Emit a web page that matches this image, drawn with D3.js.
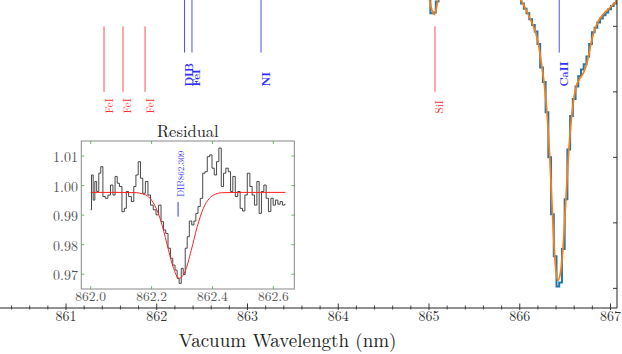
<!DOCTYPE html>
<html>
<head>
<meta charset="utf-8">
<script src="https://cdn.jsdelivr.net/npm/d3@7"></script>
<style>
  body { margin: 0; background: #fff; }
</style>
</head>
<body>
<div id="chart"></div>
<script>
// observed spectrum (steps) and model, around Si I and Ca II
var specWave = [864.70, 864.85, 864.94, 864.97, 865.00, 865.03, 865.06, 865.09, 865.12, 865.15, 865.18, 865.30, 865.50, 865.65,
  865.79, 865.82, 865.85, 865.88, 865.91, 865.94, 865.97, 866.00, 866.03, 866.06, 866.09, 866.12, 866.15, 866.18,
  866.21, 866.24, 866.27, 866.30, 866.33, 866.36, 866.39, 866.42, 866.45, 866.48, 866.51, 866.54, 866.57, 866.60,
  866.63, 866.66, 866.69, 866.72, 866.75, 866.78, 866.81, 866.84, 866.87, 866.90, 866.93, 866.96, 866.99, 867.02,
  867.05, 867.08, 867.11];
var specFlux = [0.970, 0.950, 0.910, 0.880, 0.850, 0.820, 0.821, 0.838, 0.862, 0.890, 0.920, 0.950, 0.950, 0.930,
  0.910, 0.899, 0.890, 0.879, 0.869, 0.856, 0.849, 0.843, 0.835, 0.827, 0.820, 0.811, 0.802, 0.792,
  0.773, 0.737, 0.715, 0.669, 0.600, 0.513, 0.449, 0.403, 0.409, 0.460, 0.536, 0.612, 0.663, 0.689,
  0.708, 0.724, 0.734, 0.742, 0.754, 0.773, 0.791, 0.798, 0.806, 0.812, 0.817, 0.821, 0.826, 0.831,
  0.835, 0.840, 0.845];
var modelFlux = [0.970, 0.945, 0.905, 0.875, 0.845, 0.826, 0.818, 0.834, 0.858, 0.885, 0.915, 0.950, 0.950, 0.930,
  0.905, 0.897, 0.888, 0.878, 0.867, 0.857, 0.850, 0.844, 0.836, 0.828, 0.819, 0.810, 0.800, 0.788,
  0.770, 0.742, 0.712, 0.668, 0.602, 0.515, 0.440, 0.412, 0.425, 0.468, 0.540, 0.610, 0.660, 0.693,
  0.712, 0.720, 0.726, 0.735, 0.750, 0.770, 0.788, 0.800, 0.809, 0.815, 0.820, 0.824, 0.828, 0.832,
  0.836, 0.840, 0.845];

// line identifications
var lineNames = ["FeI", "FeI", "FeI", "DIB", "FeI", "NI", "SiI", "CaII"];
var lineWaves = [861.419, 861.628, 861.871, 862.306, 862.388, 863.149, 865.066, 866.435];
var lineKind  = ["atm", "atm", "atm", "ism", "ism", "ism", "atm", "ism"];

var mainTicks = [861, 862, 863, 864, 865, 866, 867];
var fluxTicks = [0.4, 0.5, 0.6, 0.7, 0.8];

// residual inset
var resWave = [862.000, 862.005, 862.011, 862.016, 862.023, 862.030, 862.036, 862.044, 862.052, 862.061,
  862.069, 862.077, 862.083, 862.091, 862.098, 862.107, 862.114, 862.120, 862.129, 862.138,
  862.145, 862.152, 862.160, 862.167, 862.175, 862.184, 862.192, 862.201, 862.210, 862.219,
  862.227, 862.235, 862.243, 862.250, 862.258, 862.266, 862.273, 862.281, 862.287, 862.294,
  862.301, 862.307, 862.314, 862.320, 862.328, 862.336, 862.342, 862.349, 862.356, 862.364,
  862.372, 862.379, 862.387, 862.395, 862.402, 862.410, 862.417, 862.425, 862.433, 862.440,
  862.448, 862.456, 862.463, 862.471, 862.479, 862.487, 862.495, 862.503, 862.510, 862.519,
  862.527, 862.534, 862.542, 862.550, 862.557, 862.565, 862.573, 862.580, 862.588, 862.596,
  862.603, 862.611, 862.619, 862.626, 862.634, 862.640];
var resFlux = [0.9918, 1.0036, 0.9951, 1.0014, 0.9980, 1.0042, 1.0064, 0.9963, 0.9957, 0.9968,
  1.0002, 0.9968, 1.0031, 1.0008, 0.9997, 0.9912, 0.9923, 0.9980, 0.9963, 0.9946,
  0.9997, 1.0036, 1.0081, 1.0025, 0.9974, 1.0014, 0.9968, 0.9934, 0.9918, 0.9901,
  0.9934, 0.9878, 0.9850, 0.9838, 0.9788, 0.9754, 0.9731, 0.9714, 0.9686, 0.9669,
  0.9720, 0.9699, 0.9788, 0.9827, 0.9880, 0.9867, 0.9880, 0.9906, 0.9929, 0.9957,
  1.0042, 1.0047, 1.0098, 1.0104, 1.0059, 1.0036, 1.0081, 1.0127, 0.9997, 1.0042,
  1.0059, 1.0047, 0.9980, 1.0031, 0.9963, 0.9980, 0.9923, 0.9914, 0.9968, 1.0042,
  0.9997, 0.9968, 0.9934, 1.0014, 0.9906, 0.9980, 1.0002, 0.9957, 0.9912, 0.9957,
  0.9934, 0.9951, 0.9937, 0.9946, 0.9934, 0.9937];
var fitWave = [862.00, 862.10, 862.15, 862.17, 862.19, 862.21, 862.23, 862.25, 862.27, 862.29,
  862.31, 862.33, 862.35, 862.37, 862.39, 862.41, 862.43, 862.50, 862.64];
var fitFlux = [0.9977, 0.9977, 0.9976, 0.9972, 0.9962, 0.9934, 0.9882, 0.9805, 0.9727, 0.9686,
  0.9709, 0.9780, 0.9861, 0.9923, 0.9957, 0.9971, 0.9976, 0.9977, 0.9977];
var resXTicks = [862.0, 862.2, 862.4, 862.6];
var resYTicks = [0.97, 0.98, 0.99, 1.00, 1.01];
var dibWave = 862.287;

var serif = "'Latin Modern Roman', 'Liberation Serif', monospace";
var width = 622, height = 354;
var svg = d3.select("#chart").append("svg")
  .attr("width", width)
  .attr("height", height);

function label(parent) {
  return parent.append("text").style("font-family", serif);
}

// main axes: plot box runs off the top and left of the picture
var x = d3.scaleLinear().domain([861, 867]).range([66, 610.5]);
var y = d3.scaleLinear().domain([0.37, 1.05]).range([308, -137.4]);
var plotLeft = -42, plotRight = 617, plotBottom = 308;

svg.append("defs").append("clipPath")
  .attr("id", "clip")
  .append("rect")
  .attr("x", plotLeft).attr("y", -200)
  .attr("width", plotRight - plotLeft).attr("height", plotBottom + 200);

var g = svg.append("g").attr("clip-path", "url(#clip)");

var spec = specWave.map(function(w, i) { return { w: w, f: specFlux[i], m: modelFlux[i] }; });

g.append("path")
  .datum(spec)
  .attr("fill", "none")
  .attr("stroke", "#1f77b4")
  .attr("stroke-width", 2)
  .attr("d", d3.line()
    .x(function(d) { return x(d.w); })
    .y(function(d) { return y(d.f); })
    .curve(d3.curveStep));

g.append("path")
  .datum(spec)
  .attr("fill", "none")
  .attr("stroke", "#ff7f0e")
  .attr("stroke-width", 1.7)
  .attr("d", d3.line()
    .x(function(d) { return x(d.w); })
    .y(function(d) { return y(d.m); })
    .curve(d3.curveMonotoneX));

// line markers
lineNames.forEach(function(name, i) {
  var xx = x(lineWaves[i]);
  var atm = lineKind[i] === "atm";
  var col = atm ? "#ff3030" : "#3030ff";
  g.append("line")
    .attr("x1", xx).attr("x2", xx)
    .attr("y1", atm ? y(0.8) : y(0.9))
    .attr("y2", atm ? y(0.7) : y(0.76))
    .attr("stroke", col)
    .attr("stroke-opacity", 0.85)
    .attr("stroke-width", 1);
  var ty = atm ? y(0.667) : y(0.708);
  label(svg)
    .attr("transform", "translate(" + (xx + 4) + "," + ty + ") rotate(-90)")
    .attr("dominant-baseline", "central")
    .attr("font-size", 11)
    .attr("font-weight", atm ? "normal" : "bold")
    .attr("fill", col)
    .text(name);
});

// bottom axis
svg.append("line")
  .attr("x1", plotLeft).attr("x2", plotRight)
  .attr("y1", plotBottom).attr("y2", plotBottom)
  .attr("stroke", "#222").attr("stroke-width", 1);

var minor = d3.range(859.0, 867.1, 0.2).filter(function(v) { return Math.abs(v - Math.round(v)) > 0.01; });
svg.selectAll(".minor").data(minor).enter().append("line")
  .attr("x1", function(d) { return x(d); })
  .attr("x2", function(d) { return x(d); })
  .attr("y1", plotBottom - 2.5).attr("y2", plotBottom + 1.5)
  .attr("stroke", "#222").attr("stroke-width", 0.8);

svg.selectAll(".major").data(mainTicks).enter().append("line")
  .attr("x1", function(d) { return x(d); })
  .attr("x2", function(d) { return x(d); })
  .attr("y1", plotBottom - 4.5).attr("y2", plotBottom + 2)
  .attr("stroke", "#222").attr("stroke-width", 0.9);

mainTicks.forEach(function(t) {
  label(svg)
    .attr("x", x(t))
    .attr("y", 320.5)
    .attr("text-anchor", "middle")
    .attr("font-size", 14)
    .attr("fill", "#333")
    .text(t);
});

label(svg)
  .attr("x", (plotLeft + plotRight) / 2)
  .attr("y", 347)
  .attr("text-anchor", "middle")
  .attr("font-size", 19)
  .attr("fill", "#222")
  .text("Vacuum Wavelength (nm)");

// right spine
svg.append("line")
  .attr("x1", plotRight).attr("x2", plotRight)
  .attr("y1", 0).attr("y2", plotBottom)
  .attr("stroke", "#222").attr("stroke-width", 1);
svg.selectAll(".rt").data(fluxTicks).enter().append("line")
  .attr("x1", plotRight - 4).attr("x2", plotRight)
  .attr("y1", function(d) { return y(d); })
  .attr("y2", function(d) { return y(d); })
  .attr("stroke", "#222").attr("stroke-width", 0.9);

// inset
var ix = d3.scaleLinear().domain([861.969, 862.669]).range([81.3, 294.3]);
var iy = d3.scaleLinear().domain([0.9650, 1.0151]).range([289, 141]);

var inset = svg.append("g");
inset.append("rect")
  .attr("x", 81.3).attr("y", 141)
  .attr("width", 213).attr("height", 148)
  .attr("fill", "#fff")
  .attr("stroke", "#888").attr("stroke-width", 1);

label(inset)
  .attr("x", (81.3 + 294.3) / 2).attr("y", 137)
  .attr("text-anchor", "middle")
  .attr("font-size", 16.5)
  .attr("fill", "#222")
  .text("Residual");

resXTicks.forEach(function(t) {
  [141, 289].forEach(function(yy) {
    inset.append("line")
      .attr("x1", ix(t)).attr("x2", ix(t))
      .attr("y1", yy).attr("y2", yy === 141 ? yy + 3 : yy - 3)
      .attr("stroke", "#4a4").attr("stroke-width", 0.8);
  });
  label(inset)
    .attr("x", ix(t)).attr("y", 300.5)
    .attr("text-anchor", "middle")
    .attr("font-size", 13.5)
    .attr("fill", "#555")
    .text(t.toFixed(1));
});

resYTicks.forEach(function(t) {
  [81.3, 294.3].forEach(function(xx) {
    inset.append("line")
      .attr("x1", xx).attr("x2", xx === 81.3 ? xx + 3 : xx - 3)
      .attr("y1", iy(t)).attr("y2", iy(t))
      .attr("stroke", "#4a4").attr("stroke-width", 0.8);
  });
  label(inset)
    .attr("x", 78).attr("y", iy(t))
    .attr("text-anchor", "end")
    .attr("dominant-baseline", "central")
    .attr("font-size", 14)
    .attr("fill", "#555")
    .text(t.toFixed(2));
});

var res = resWave.map(function(w, i) { return { w: w, f: resFlux[i] }; });
inset.append("path")
  .datum(res)
  .attr("fill", "none")
  .attr("stroke", "#333")
  .attr("stroke-width", 0.9)
  .attr("d", d3.line()
    .x(function(d) { return ix(d.w); })
    .y(function(d) { return iy(d.f); })
    .curve(d3.curveStep));

var fit = fitWave.map(function(w, i) { return { w: w, f: fitFlux[i] }; });
inset.append("path")
  .datum(fit)
  .attr("fill", "none")
  .attr("stroke", "#ff2020")
  .attr("stroke-width", 1)
  .attr("d", d3.line()
    .x(function(d) { return ix(d.w); })
    .y(function(d) { return iy(d.f); })
    .curve(d3.curveMonotoneX));

inset.append("line")
  .attr("x1", ix(dibWave)).attr("x2", ix(dibWave))
  .attr("y1", iy(0.9944)).attr("y2", iy(0.9895))
  .attr("stroke", "#3030ff").attr("stroke-width", 1);

label(inset)
  .attr("transform", "translate(" + (ix(dibWave) + 2) + "," + iy(0.9962) + ") rotate(-90)")
  .attr("dominant-baseline", "central")
  .attr("font-size", 9)
  .attr("fill", "#3030ff")
  .text("DIB862.309");
</script>
</body>
</html>
